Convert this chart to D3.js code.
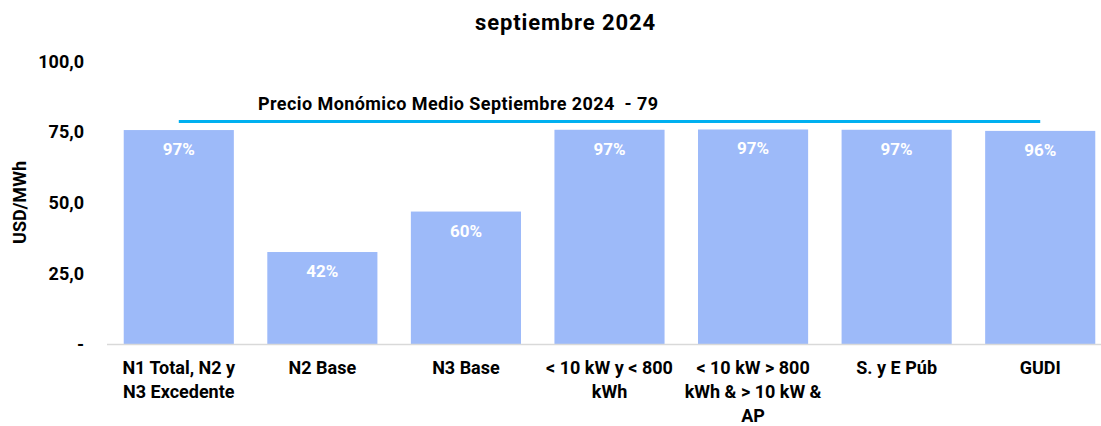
<!DOCTYPE html>
<html>
<head>
<meta charset="utf-8">
<script src="https://cdn.jsdelivr.net/npm/d3@7"></script>
<style>
  body { margin: 0; background: #fff; }
  text { font-family: Roboto, "Noto Sans", sans-serif; }
</style>
</head>
<body>
<div id="chart"></div>
<script>
// categories (line breaks as in the original)
const categories = [
  ["N1 Total, N2 y", "N3 Excedente"],
  ["N2 Base"],
  ["N3 Base"],
  ["< 10 kW y < 800", "kWh"],
  ["< 10 kW > 800", "kWh & > 10 kW &", "AP"],
  ["S. y E Púb"],
  ["GUDI"]
];
const prices = [75.6, 32.5, 46.8, 75.7, 75.8, 75.7, 75.3];
const shares = ["97%", "42%", "60%", "97%", "97%", "97%", "96%"];
const avgPrice = 79;
const avgLabel = "Precio Monómico Medio Septiembre 2024  - 79";
const yTicks = [0, 25, 50, 75, 100];

const W = 1101, H = 426;
const svg = d3.select("#chart").append("svg")
  .attr("width", W).attr("height", H);

const x = d3.scaleBand()
  .domain(d3.range(categories.length))
  .range([107, 1112])
  .paddingInner(0.233)
  .paddingOuter(0.1165);

const y = d3.scaleLinear().domain([0, 100]).range([344, 61]);

// title
svg.append("text")
  .attr("x", 565).attr("y", 30)
  .attr("text-anchor", "middle")
  .attr("font-size", 22).attr("font-weight", "bold")
  .attr("textLength", 180)
  .text("septiembre 2024");

// y axis labels
svg.append("g").selectAll("text")
  .data(yTicks)
  .join("text")
  .attr("x", 84)
  .attr("y", d => y(d) + 6.5)
  .attr("text-anchor", "end")
  .attr("font-size", 18).attr("font-weight", "bold")
  .text(d => d === 0 ? "-" : d3.format(".1f")(d).replace(".", ","));

svg.append("text")
  .attr("transform", `translate(26,${y(50)}) rotate(-90)`)
  .attr("text-anchor", "middle")
  .attr("font-size", 18).attr("font-weight", "bold")
  .text("USD/MWh");

// bars
svg.append("g").selectAll("rect")
  .data(prices)
  .join("rect")
  .attr("x", (d, i) => x(i))
  .attr("width", x.bandwidth())
  .attr("y", d => y(d))
  .attr("height", d => y(0) - y(d))
  .attr("fill", "#9dbaf9");

// baseline
svg.append("line")
  .attr("x1", 107).attr("x2", W)
  .attr("y1", y(0) + 0.5).attr("y2", y(0) + 0.5)
  .attr("stroke", "#d9d9d9").attr("stroke-width", 1.5);

// share labels
svg.append("g").selectAll("text")
  .data(prices)
  .join("text")
  .attr("x", (d, i) => x(i) + x.bandwidth() / 2)
  .attr("y", d => y(d) + 25)
  .attr("text-anchor", "middle")
  .attr("font-size", 17).attr("font-weight", "bold")
  .attr("fill", "#fff")
  .text((d, i) => shares[i]);

// average price line
svg.append("line")
  .attr("x1", x(0) + x.bandwidth() / 2)
  .attr("x2", x(categories.length - 1) + x.bandwidth() / 2)
  .attr("y1", y(avgPrice) + 1).attr("y2", y(avgPrice) + 1)
  .attr("stroke", "#00b0f0").attr("stroke-width", 3);

svg.append("text")
  .attr("x", 458).attr("y", 110)
  .attr("text-anchor", "middle")
  .attr("font-size", 18).attr("font-weight", "bold")
  .attr("textLength", 400)
  .attr("xml:space", "preserve")
  .style("white-space", "pre")
  .text(avgLabel);

// category labels
const cat = svg.append("g").selectAll("text")
  .data(categories)
  .join("text")
  .attr("text-anchor", "middle")
  .attr("font-size", 18).attr("font-weight", "bold");
cat.each(function (lines, i) {
  d3.select(this).selectAll("tspan")
    .data(lines)
    .join("tspan")
    .attr("x", x(i) + x.bandwidth() / 2)
    .attr("y", (d, j) => 374 + j * 24)
    .text(d => d);
});
</script>
</body>
</html>
